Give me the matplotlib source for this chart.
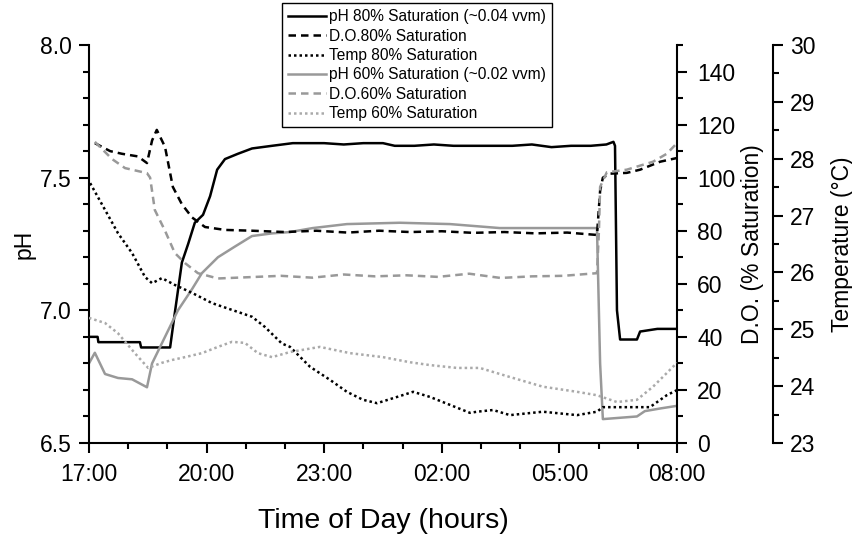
import matplotlib
matplotlib.use("Agg")
import matplotlib.pyplot as plt
from matplotlib.ticker import MultipleLocator, FixedLocator

plt.rcParams['font.family'] = ['Liberation Sans', 'DejaVu Sans']

# --- Data (hours after 17:00) ---
tick_hours = [0, 3, 6, 9, 12, 15]
tick_labels = ["17:00", "20:00", "23:00", "02:00", "05:00", "08:00"]

# pH, 80% saturation (~0.04 vvm)
t_ph80 = [0, 0.22, 0.24, 0.7, 1.3, 1.33, 1.9, 2.07, 2.19, 2.37, 2.53, 2.70, 2.91, 3.09,
          3.27, 3.47, 3.80, 4.16, 4.67, 5.2, 5.6, 6.0, 6.5, 7.0, 7.5, 7.8, 8.3, 8.8, 9.3,
          9.8, 10.3, 10.8, 11.3, 11.8, 12.3, 12.8, 13.2, 13.38, 13.42, 13.47, 13.55,
          13.98, 14.06, 14.5, 15.0]
ph80 = [6.90, 6.90, 6.88, 6.88, 6.88, 6.86, 6.86, 6.86, 6.99, 7.18, 7.25, 7.33, 7.36, 7.43,
        7.53, 7.57, 7.59, 7.61, 7.62, 7.63, 7.63, 7.63, 7.625, 7.63, 7.63, 7.62, 7.62, 7.625,
        7.62, 7.62, 7.62, 7.62, 7.625, 7.615, 7.62, 7.62, 7.625, 7.635, 7.62, 7.0, 6.89,
        6.89, 6.92, 6.93, 6.93]

# pH, 60% saturation (~0.02 vvm)
t_ph60 = [0, 0.15, 0.41, 0.74, 1.10, 1.48, 1.61, 1.94, 2.27, 2.63, 2.88, 3.29, 3.72, 4.16,
          4.67, 5.13, 5.71, 6.58, 7.93, 9.21, 10.48, 12.02, 12.96, 13.04, 13.11, 13.98,
          14.18, 14.57, 15.0]
ph60 = [6.80, 6.84, 6.76, 6.745, 6.74, 6.71, 6.80, 6.90, 7.0, 7.08, 7.14, 7.20, 7.24, 7.28,
        7.29, 7.295, 7.31, 7.325, 7.33, 7.325, 7.31, 7.31, 7.31, 6.80, 6.59, 6.60,
        6.62, 6.63, 6.64]

# Dissolved oxygen (% saturation)
t_do80 = [0.15, 0.54, 0.84, 1.25, 1.48, 1.61, 1.73, 1.94, 2.14, 2.37, 2.63, 2.96, 3.47,
          4.16, 5.0, 5.8, 6.6, 7.4, 8.2, 9.0, 9.8, 10.6, 11.4, 12.2, 12.96, 13.04, 13.11,
          13.29, 13.72, 14.06, 14.57, 15.0]
do80 = [113, 110, 109, 108, 105.5, 114, 118, 111.6, 96.5, 90, 85, 81.4, 80.3,
        80, 79.5, 80, 79.3, 80, 79.5, 79.8, 79.2, 79.5, 79, 79.3, 78.4, 95, 100,
        101.5, 101.8, 103, 106, 107.4]

t_do60 = [0.15, 0.59, 0.92, 1.48, 1.56, 1.68, 1.94, 2.19, 2.45, 2.78, 3.29, 4.1, 4.9,
          5.7, 6.5, 7.3, 8.1, 8.9, 9.7, 10.5, 11.3, 12.1, 12.96, 13.01, 13.04, 13.21,
          13.72, 14.39, 14.74, 15.0]
do60 = [113.5, 107, 103.6, 101.7, 100, 87.8, 80, 71.6, 67.8, 64, 62, 62.5, 63,
        62.3, 63.5, 62.8, 63.2, 62.6, 63.8, 62.2, 62.8, 63, 64, 80, 96.5, 102,
        103, 106, 109, 113]

# Temperature (deg C)
t_temp80 = [0.03, 0.41, 0.74, 1.10, 1.43, 1.61, 1.86, 2.19, 2.63, 3.14, 3.65, 4.16, 4.49,
            4.92, 5.13, 5.64, 6.15, 6.58, 6.99, 7.35, 7.86, 8.27, 8.70, 9.21, 9.72, 9.90,
            10.31, 10.74, 11.58, 12.45, 12.96, 13.11, 14.31, 14.74, 15.0]
temp80 = [27.57, 27.10, 26.69, 26.34, 25.92, 25.81, 25.90, 25.78, 25.64, 25.46, 25.34, 25.22,
          25.04, 24.75, 24.69, 24.34, 24.11, 23.90, 23.76, 23.70, 23.81, 23.90, 23.81, 23.67,
          23.53, 23.55, 23.58, 23.49, 23.55, 23.49, 23.55, 23.63, 23.63, 23.84, 23.93]

t_temp60 = [0, 0.41, 0.74, 1.17, 1.51, 1.86, 2.12, 2.45, 2.88, 3.29, 3.65, 3.98, 4.31, 4.67,
            5.13, 5.89, 6.66, 7.50, 8.19, 8.70, 9.39, 9.97, 10.74, 11.58, 12.45, 12.96,
            13.47, 13.98, 14.39, 14.74, 15.0]
temp60 = [25.20, 25.11, 24.93, 24.58, 24.32, 24.41, 24.46, 24.51, 24.58, 24.69, 24.78, 24.76,
          24.58, 24.51, 24.60, 24.69, 24.58, 24.51, 24.42, 24.37, 24.32, 24.32, 24.16, 23.99,
          23.90, 23.84, 23.72, 23.76, 23.99, 24.23, 24.41]

BLACK = 'black'
GRAY = '#999999'
LIGHT = '#aaaaaa'
LW = 1.8

fig = plt.figure(figsize=(8.53, 5.38), dpi=100)
ax = fig.add_axes([0.1043, 0.1766, 0.6893, 0.7398])
ax2 = ax.twinx()
ax3 = ax.twinx()
ax3.spines['right'].set_position(('axes', 1.163))

# pH on the left axis
l1, = ax.plot(t_ph80, ph80, color=BLACK, lw=LW, label='pH 80% Saturation (~0.04 vvm)')
l4, = ax.plot(t_ph60, ph60, color=GRAY, lw=LW, label='pH 60% Saturation (~0.02 vvm)')

# D.O. on first right axis
l2, = ax2.plot(t_do80, do80, color=BLACK, lw=LW, dashes=(3, 2), label='D.O.80% Saturation')
l5, = ax2.plot(t_do60, do60, color=GRAY, lw=LW, dashes=(3, 2), label='D.O.60% Saturation')

# Temperature on second right axis
l3, = ax3.plot(t_temp80, temp80, color=BLACK, lw=LW, dashes=(1, 1.2), label='Temp 80% Saturation')
l6, = ax3.plot(t_temp60, temp60, color=LIGHT, lw=LW, dashes=(1, 1.2), label='Temp 60% Saturation')

ax.set_xlim(0, 15)
ax.set_ylim(6.5, 8.0)
ax2.set_ylim(0, 150)
ax3.set_ylim(23, 30)

ax.xaxis.set_major_locator(FixedLocator(tick_hours))
ax.set_xticklabels(tick_labels)
ax.xaxis.set_minor_locator(MultipleLocator(1))
ax.yaxis.set_major_locator(MultipleLocator(0.5))
ax.yaxis.set_minor_locator(MultipleLocator(0.1))
ax.yaxis.set_major_formatter('{x:.1f}')
ax2.yaxis.set_major_locator(FixedLocator([0, 20, 40, 60, 80, 100, 120, 140]))
ax2.yaxis.set_minor_locator(MultipleLocator(10))
ax3.yaxis.set_major_locator(MultipleLocator(1))
ax3.yaxis.set_minor_locator(MultipleLocator(0.5))

# Spines: open frame, only left/bottom + two right axes
for a in (ax, ax2, ax3):
    a.spines['top'].set_visible(False)
    for s in a.spines.values():
        s.set_linewidth(1.5)
ax.spines['right'].set_visible(False)
ax2.spines['left'].set_visible(False)
ax2.spines['bottom'].set_visible(False)
ax3.spines['left'].set_visible(False)
ax3.spines['bottom'].set_visible(False)

for a in (ax, ax2, ax3):
    a.tick_params(which='major', direction='out', length=7.5, width=1.5, labelsize=16.5, pad=5)
    a.tick_params(which='minor', direction='out', length=4.5, width=1.5)
ax.tick_params(axis='x', which='major', pad=7)
ax2.tick_params(which='major', pad=7)

ax.set_xlabel('Time of Day (hours)', fontsize=20.5, labelpad=16)
ax.set_ylabel('pH', fontsize=16.5, labelpad=3)
ax2.set_ylabel('D.O. (% Saturation)', fontsize=16.5, labelpad=4)
ax3.set_ylabel('Temperature (°C)', fontsize=16.5, labelpad=11)

handles = [l1, l2, l3, l4, l5, l6]
leg = fig.legend(handles, [h.get_label() for h in handles], loc='upper left',
                 bbox_to_anchor=(0.3306, 0.9944), bbox_transform=fig.transFigure,
                 fontsize=11.2, fancybox=False, edgecolor='black', framealpha=1,
                 handlelength=2.4, handletextpad=0.2, labelspacing=0.28,
                 borderpad=0.4, borderaxespad=0)
leg.get_frame().set_linewidth(1.0)

plt.savefig('out.png', dpi=100)
plt.close()
